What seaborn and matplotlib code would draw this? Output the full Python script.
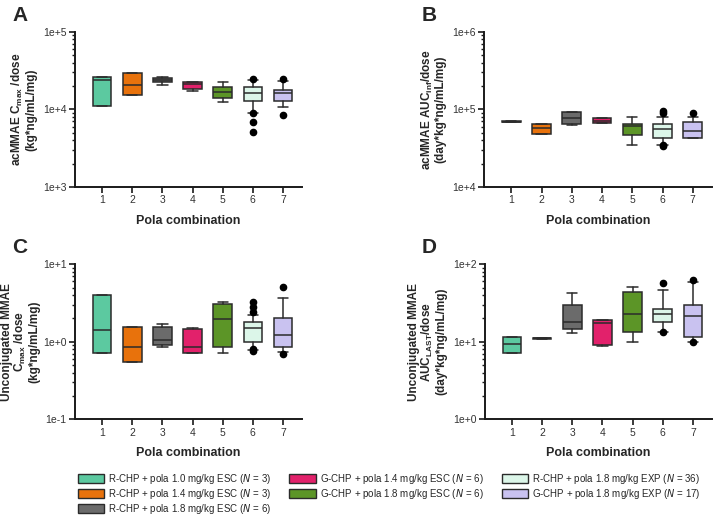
import numpy as np
import matplotlib
matplotlib.use("Agg")
import matplotlib.pyplot as plt
from matplotlib.patches import Patch
from matplotlib.ticker import LogLocator, FuncFormatter, NullFormatter
import seaborn as sns

sns.set_theme(style="ticks")
plt.rcParams['font.family'] = ['Liberation Sans', 'DejaVu Sans']
plt.rcParams['mathtext.default'] = 'regular'

groups = [1, 2, 3, 4, 5, 6, 7]
colors = ["#5CC9A0", "#E8720C", "#6B6B6B", "#E2216B", "#5C9527", "#DCF6E9", "#C9C2F0"]
legend_labels = [
    r"R-CHP + pola 1.0 mg/kg ESC ($\it{N}$ = 3)",
    r"R-CHP + pola 1.4 mg/kg ESC ($\it{N}$ = 3)",
    r"R-CHP + pola 1.8 mg/kg ESC ($\it{N}$ = 6)",
    r"G-CHP + pola 1.4 mg/kg ESC ($\it{N}$ = 6)",
    r"G-CHP + pola 1.8 mg/kg ESC ($\it{N}$ = 6)",
    r"R-CHP + pola 1.8 mg/kg EXP ($\it{N}$ = 36)",
    r"G-CHP + pola 1.8 mg/kg EXP ($\it{N}$ = 17)",
]

# Panel A: acMMAE Cmax/dose
a_q1 = [11100, 15400, 22300, 18200, 13960, 13000, 12900]
a_med = [23900, 20700, 23700, 21400, 16700, 16200, 16500]
a_q3 = [26100, 29400, 25100, 22900, 19600, 19400, 17900]
a_lo = [11100, 15400, 20700, 17500, 12400, 8900, 10900]
a_hi = [26100, 29400, 26000, 22900, 22900, 23700, 23200]
a_fl = [[], [], [], [], [], [24900, 8900, 6890, 5160], [24900, 8490]]

# Panel B: acMMAE AUCinf/dose
b_q1 = [68300, 47900, 64000, 67200, 46500, 43400, 43400]
b_med = [69200, 57800, 78000, 71300, 60800, 56100, 52400]
b_q3 = [70300, 65800, 93300, 78000, 64000, 65800, 69200]
b_lo = [68300, 47900, 63500, 67200, 34500, 35200, 43400]
b_hi = [70300, 65800, 93300, 78000, 80400, 80400, 80400]
b_fl = [[], [], [], [], [], [95000, 91000, 33600, 35000], [90600]]

# Panel C: unconjugated MMAE Cmax/dose
c_q1 = [0.714, 0.542, 0.897, 0.708, 0.863, 1.00, 0.863]
c_med = [1.41, 0.863, 1.05, 0.863, 1.94, 1.51, 1.21]
c_q3 = [4.03, 1.56, 1.56, 1.46, 3.05, 1.81, 2.00]
c_lo = [0.714, 0.542, 0.845, 0.708, 0.708, 0.78, 0.736]
c_hi = [4.03, 1.56, 1.71, 1.49, 3.27, 2.20, 3.69]
c_fl = [[], [], [], [], [], [3.28, 2.77, 2.43, 0.80, 0.76], [5.10, 0.70]]

# Panel D: unconjugated MMAE AUClast/dose
d_q1 = [7.14, 10.9, 14.6, 9.06, 13.5, 17.9, 11.4]
d_med = [9.42, 11.0, 18.1, 17.6, 22.5, 22.7, 21.6]
d_q3 = [11.4, 11.1, 29.4, 19.0, 44.1, 26.6, 29.4]
d_lo = [7.14, 10.9, 12.9, 8.8, 9.9, 13.3, 10.0]
d_hi = [11.4, 11.1, 42.8, 19.0, 50.1, 46.2, 58.9]
d_fl = [[], [], [], [], [], [57.5, 13.3], [62.2, 10.0]]

panels = [
    dict(letter="A", q1=a_q1, med=a_med, q3=a_q3, lo=a_lo, hi=a_hi, fl=a_fl,
         ylim=(1e3, 1e5), ylabel="acMMAE C$_{max}$ /dose\n(kg*ng/mL/mg)",
         rect=[0.105, 0.637, 0.318, 0.301], pad=4),
    dict(letter="B", q1=b_q1, med=b_med, q3=b_q3, lo=b_lo, hi=b_hi, fl=b_fl,
         ylim=(1e4, 1e6), ylabel="acMMAE AUC$_{inf}$/dose\n(day*kg*ng/mL/mg)",
         rect=[0.678, 0.637, 0.319, 0.301], pad=4),
    dict(letter="C", q1=c_q1, med=c_med, q3=c_q3, lo=c_lo, hi=c_hi, fl=c_fl,
         ylim=(1e-1, 1e1), ylabel="Unconjugated MMAE\nC$_{max}$ /dose\n(kg*ng/mL/mg)",
         rect=[0.105, 0.186, 0.318, 0.301], pad=2),
    dict(letter="D", q1=d_q1, med=d_med, q3=d_q3, lo=d_lo, hi=d_hi, fl=d_fl,
         ylim=(1e0, 1e2), ylabel="Unconjugated MMAE\nAUC$_{LAST}$/dose\n(day*kg*ng/mL/mg)",
         rect=[0.679, 0.186, 0.318, 0.301], pad=4),
]

fig = plt.figure(figsize=(7.14, 5.15), dpi=100)
fig.patch.set_facecolor("white")

edge = "#2b2b2b"

def fmt(v, pos):
    e = int(round(np.log10(v)))
    return f"1e{'+' if e >= 0 else '-'}{abs(e)}"

for p in panels:
    ax = fig.add_axes(p["rect"])
    ax.set_facecolor("white")
    stats = []
    for i in range(len(groups)):
        stats.append(dict(med=p["med"][i], q1=p["q1"][i], q3=p["q3"][i],
                          whislo=p["lo"][i], whishi=p["hi"][i], fliers=p["fl"][i]))
    bp = ax.bxp(stats, positions=groups, widths=0.62, patch_artist=True,
                showfliers=True,
                boxprops=dict(linewidth=1.1, edgecolor=edge),
                medianprops=dict(color=edge, linewidth=1.1),
                whiskerprops=dict(color=edge, linewidth=1.1),
                capprops=dict(color=edge, linewidth=1.1),
                capwidths=0.34,
                flierprops=dict(marker="o", markerfacecolor="black",
                                markeredgecolor="black", markersize=4.5))
    for box, c in zip(bp["boxes"], colors):
        box.set_facecolor(c)
    ax.set_yscale("log")
    ax.set_ylim(*p["ylim"])
    ax.set_xlim(0.1, 7.63)
    ax.set_xticks(groups)
    ax.set_xticklabels([str(g) for g in groups])
    ax.yaxis.set_major_locator(LogLocator(base=10, numticks=10))
    ax.yaxis.set_major_formatter(FuncFormatter(fmt))
    ax.yaxis.set_minor_locator(LogLocator(base=10, subs=np.arange(2, 10), numticks=20))
    ax.yaxis.set_minor_formatter(NullFormatter())
    sns.despine(ax=ax)
    for s in ["left", "bottom"]:
        ax.spines[s].set_linewidth(1.4)
        ax.spines[s].set_color("#1a1a1a")
    ax.tick_params(axis="both", which="major", length=4, width=1.2, color="#1a1a1a",
                   labelsize=7.5, labelcolor="#333333", pad=2)
    ax.tick_params(axis="y", which="minor", length=2.5, width=1.0, color="#1a1a1a")
    ax.set_xlabel("Pola combination", fontsize=9, fontweight="bold", labelpad=7)
    ax.set_ylabel(p["ylabel"], fontsize=8.5, fontweight="bold", labelpad=p["pad"],
                  linespacing=1.02)
    ax.grid(False)

fig.text(0.017, 0.988, "A", fontsize=15, fontweight="bold", va="top")
fig.text(0.590, 0.988, "B", fontsize=15, fontweight="bold", va="top")
fig.text(0.017, 0.538, "C", fontsize=15, fontweight="bold", va="top")
fig.text(0.590, 0.538, "D", fontsize=15, fontweight="bold", va="top")

handles = [Patch(facecolor=c, edgecolor=edge, linewidth=1.0) for c in colors]
fig.legend(handles, legend_labels, ncol=3, loc="center", bbox_to_anchor=(0.545, 0.041),
           frameon=False, fontsize=7.0, handlelength=2.7, handleheight=1.15,
           columnspacing=1.85, labelspacing=0.1, handletextpad=0.45,
           borderpad=0.0, borderaxespad=0.0)

fig.savefig("out.png", dpi=100, facecolor="white")
